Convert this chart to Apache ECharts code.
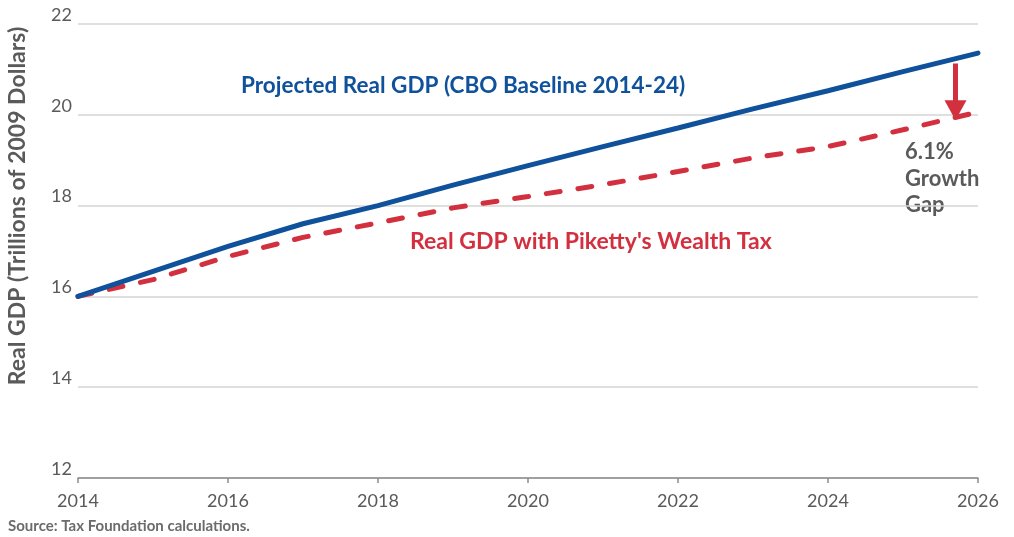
<!DOCTYPE html>
<html>
<head>
<meta charset="utf-8">
<script src="https://cdn.jsdelivr.net/npm/echarts@6/dist/echarts.min.js"></script>
<style>
  html, body { margin: 0; padding: 0; background: #fff; }
  #chart { width: 1014px; height: 537px; }
</style>
</head>
<body>
<div id="chart"></div>
<script>
  // years on the x axis
  const years = [2014, 2015, 2016, 2017, 2018, 2019, 2020, 2021, 2022, 2023, 2024, 2025, 2026]
  // CBO baseline, trillions of 2009 dollars
  const baseline = [16.0, 16.55, 17.1, 17.6, 18.0, 18.45, 18.88, 19.3, 19.71, 20.13, 20.53, 20.95, 21.36]
  // with Piketty's wealth tax
  const wealthTax = [16.0, 16.37, 16.88, 17.3, 17.62, 17.95, 18.2, 18.46, 18.75, 19.05, 19.3, 19.67, 20.06]
  const gapYear = 2025.7
  const yTicks = [12, 14, 16, 18, 20, 22]

  const blue = '#0f519a'
  const red = '#d3303f'
  const grey = '#5a5a5a'

  let myChart = echarts.init(document.getElementById('chart'))

  let option = {
    backgroundColor: '#ffffff',
    animation: false,
    textStyle: { fontFamily: 'Lato' },
    grid: { left: 78, right: 36, top: 24, bottom: 59 },
    xAxis: {
      type: 'value',
      min: years[0],
      max: years[years.length - 1],
      interval: 2,
      axisLine: { show: true, lineStyle: { color: '#8c8c8c', width: 1.5 } },
      axisTick: { show: true, length: 5, lineStyle: { color: '#8c8c8c', width: 1.5 } },
      axisLabel: { color: grey, fontSize: 18, margin: 14, formatter: v => String(v) },
      splitLine: { show: false }
    },
    yAxis: {
      type: 'value',
      min: yTicks[0],
      max: yTicks[yTicks.length - 1],
      interval: 2,
      axisLine: { show: false },
      axisTick: { show: false },
      axisLabel: { color: grey, fontSize: 18, margin: 6, verticalAlign: 'bottom', lineHeight: 18 },
      splitLine: { lineStyle: { color: '#d4d4d4', width: 1.5 } }
    },
    series: [
      {
        name: 'Projected Real GDP',
        type: 'line',
        data: years.map((y, i) => [y, baseline[i]]),
        showSymbol: false,
        lineStyle: { color: blue, width: 5, cap: 'round' },
        z: 3,
        markLine: {
          silent: true,
          symbol: ['none', 'triangle'],
          symbolSize: [22, 20],
          label: { show: false },
          lineStyle: { color: red, width: 5, type: 'solid' },
          data: [[{ coord: [gapYear, 21.13] }, { coord: [gapYear, 20.1] }]]
        }
      },
      {
        name: "Real GDP with Piketty's Wealth Tax",
        type: 'line',
        data: years.map((y, i) => [y, wealthTax[i]]),
        showSymbol: false,
        lineStyle: { color: red, width: 5, type: [14, 18], cap: 'round' },
        z: 2
      }
    ],
    graphic: [
      {
        // y axis title, sits a bit above the plot centre
        type: 'text', x: 18, y: 206, rotation: Math.PI / 2,
        style: {
          text: 'Real GDP (Trillions of 2009 Dollars)', fill: grey, font: 'bold 23px Lato',
          textAlign: 'center', textVerticalAlign: 'middle'
        }
      },
      {
        type: 'text', left: 241, top: 74,
        style: { text: 'Projected Real GDP (CBO Baseline 2014-24)', fill: blue, font: 'bold 22.5px Lato' }
      },
      {
        type: 'text', left: 410, top: 230,
        style: { text: "Real GDP with Piketty's Wealth Tax", fill: red, font: 'bold 23px Lato' }
      },
      {
        type: 'text', left: 905, top: 139,
        style: { text: '6.1%\nGrowth\nGap', fill: grey, font: 'bold 22px Lato', lineHeight: 26.5 }
      },
      {
        type: 'text', left: 8, top: 519,
        style: { text: 'Source: Tax Foundation calculations.', fill: '#6b6b6b', font: 'bold 15px Lato' }
      }
    ]
  }

  myChart.setOption(option)
</script>
</body>
</html>
